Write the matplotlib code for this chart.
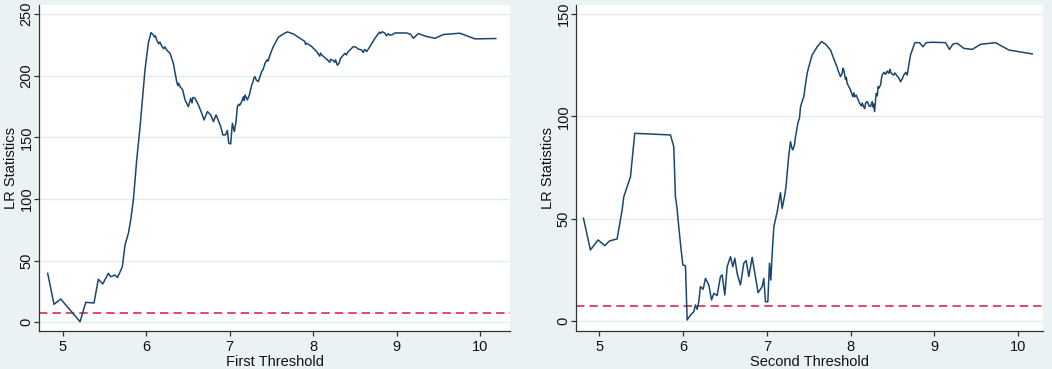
import matplotlib
matplotlib.use("Agg")
import matplotlib.pyplot as plt

plt.rcParams['font.family'] = ['Liberation Sans', 'DejaVu Sans']

# First threshold LR statistics (main read points)
x1 = [4.82, 4.896, 4.976, 5.208, 5.276, 5.375, 5.427, 5.48, 5.547, 5.575, 5.627, 5.655,
      5.68, 5.715, 5.747, 5.787, 5.815, 5.847, 5.887, 5.927, 5.986, 6.026, 6.058, 6.086,
      6.126, 6.186, 6.246, 6.286, 6.326, 6.366, 6.406, 6.438, 6.466, 6.506, 6.534, 6.586,
      6.626, 6.666, 6.694, 6.734, 6.774, 6.806, 6.838, 6.87, 6.894, 6.918, 6.95, 6.973,
      6.99, 7.013, 7.033, 7.057, 7.077, 7.093, 7.145, 7.185, 7.213, 7.237, 7.265, 7.304,
      7.344, 7.384, 7.424, 7.484, 7.524, 7.584, 7.644, 7.692, 7.764, 7.844, 7.923, 7.983,
      8.043, 8.103, 8.163, 8.243, 8.291, 8.331, 8.383, 8.483, 8.583, 8.642, 8.682, 8.742,
      8.794, 8.862, 8.922, 8.982, 9.121, 9.169, 9.201, 9.261, 9.361, 9.461, 9.561, 9.76,
      9.94, 10.19]
y1 = [39.8, 14.6, 18.9, 0.5, 16.2, 15.7, 34.9, 31.1, 39.8, 37.0, 38.4, 36.3,
      39.8, 45.2, 62.8, 72.2, 83.0, 99.3, 131.8, 158.8, 204.8, 226.5, 235.1, 233.2,
      229.2, 224.3, 221.0, 218.3, 210.2, 195.3, 191.3, 188.6, 180.5, 175.0, 181.8, 181.8,
      176.4, 169.6, 164.2, 171.0, 168.3, 162.9, 168.3, 162.9, 158.8, 152.1, 152.1, 155.6,
      145.3, 144.8, 161.5, 154.8, 162.9, 175.0, 179.1, 184.5, 180.5, 184.5, 192.6, 199.4,
      195.3, 203.5, 210.2, 217.0, 223.8, 231.3, 234.0, 235.7, 234.0, 230.5, 226.5, 223.8,
      219.7, 217.0, 213.5, 212.4, 208.6, 214.3, 218.3, 223.8, 221.0, 219.7, 223.8, 230.5,
      235.4, 234.6, 233.0, 234.8, 234.8, 233.8, 230.5, 234.3, 231.9, 230.5, 233.5, 234.6,
      230.0, 230.3]
# First threshold: small wiggles read in between
x1_detail = [6.10, 6.11, 6.15, 6.165, 6.21, 6.225, 6.38, 6.39, 6.55, 6.56, 7.11, 7.12,
             7.165, 7.175, 7.28, 7.29, 7.32, 7.40, 7.41, 7.45, 7.46, 7.90, 7.91, 8.08,
             8.09, 8.20, 8.21, 8.26, 8.27, 8.31, 8.40, 8.42, 8.45, 8.52, 8.54, 8.60,
             8.62, 8.81, 8.83, 8.88, 8.90, 8.95]
y1_detail = [231.5, 232.5, 226.0, 227.5, 222.0, 223.5, 192.0, 194.0, 178.0, 182.5, 177.0, 176.0,
             183.0, 180.0, 195.0, 198.0, 196.5, 205.0, 207.0, 213.0, 212.0, 228.0, 225.5, 216.0,
             218.5, 211.0, 213.5, 211.0, 213.0, 210.0, 217.0, 219.5, 221.5, 223.0, 221.8, 219.0,
             221.5, 234.5, 235.8, 232.5, 234.2, 233.5]

# Second threshold LR statistics (main read points)
x2 = [4.809, 4.892, 4.984, 5.064, 5.12, 5.211, 5.271, 5.291, 5.371, 5.422, 5.849, 5.888,
      5.908, 5.928, 5.94, 5.968, 5.996, 6.028, 6.048, 6.088, 6.128, 6.147, 6.167, 6.187,
      6.207, 6.239, 6.267, 6.307, 6.339, 6.367, 6.406, 6.446, 6.466, 6.498, 6.526, 6.566,
      6.594, 6.618, 6.645, 6.685, 6.725, 6.753, 6.785, 6.825, 6.857, 6.896, 6.944, 6.964,
      6.984, 7.012, 7.032, 7.048, 7.064, 7.084, 7.124, 7.163, 7.183, 7.215, 7.243, 7.283,
      7.311, 7.343, 7.375, 7.403, 7.442, 7.482, 7.542, 7.602, 7.653, 7.701, 7.761, 7.821,
      7.88, 7.92, 7.96, 8.0, 8.028, 8.068, 8.108, 8.16, 8.2, 8.239, 8.259, 8.287,
      8.307, 8.339, 8.379, 8.438, 8.478, 8.518, 8.558, 8.598, 8.637, 8.677, 8.717, 8.769,
      8.825, 8.865, 8.904, 8.976, 9.135, 9.183, 9.223, 9.275, 9.355, 9.454, 9.554, 9.733,
      9.892, 10.012, 10.171]
y2 = [50.2, 34.7, 39.6, 36.8, 39.1, 40.1, 54.2, 60.7, 70.5, 91.7, 90.9, 85.2,
      60.7, 55.0, 49.3, 37.9, 27.4, 27.0, 0.5, 2.9, 4.6, 7.8, 5.7, 9.4,
      16.8, 15.5, 20.8, 17.6, 10.3, 13.5, 12.4, 21.7, 22.5, 12.7, 26.5, 31.4,
      26.5, 30.6, 23.3, 17.6, 28.2, 29.5, 21.7, 31.1, 23.3, 13.8, 16.8, 20.8,
      9.4, 9.4, 28.2, 20.0, 33.0, 46.0, 53.4, 62.7, 55.0, 61.6, 72.1, 87.6,
      83.6, 90.1, 97.4, 104.7, 109.6, 121.0, 130.0, 134.0, 136.5, 135.3, 132.4, 125.9,
      119.4, 122.6, 116.1, 112.9, 109.6, 110.4, 106.4, 104.4, 107.2, 104.7, 107.2, 102.3,
      111.2, 113.7, 120.2, 122.1, 121.8, 120.2, 119.7, 116.9, 120.2, 120.2, 130.0, 136.0,
      136.0, 134.0, 136.0, 136.2, 136.0, 132.7, 135.3, 135.7, 133.2, 132.7, 135.2, 136.0,
      132.4, 131.6, 130.5]
# Second threshold: small wiggles read in between
x2_detail = [7.23, 7.26, 7.30, 7.33, 7.36, 7.39, 7.42, 7.46, 7.50, 7.84, 7.85, 7.90,
             7.91, 7.94, 7.95, 8.04, 8.05, 8.13, 8.14, 8.17, 8.18, 8.22, 8.27, 8.275,
             8.32, 8.33, 8.36, 8.37, 8.40, 8.42, 8.46, 8.47, 8.50, 8.53, 8.58, 8.62, 8.66]
y2_detail = [66.0, 80.0, 84.5, 86.0, 94.0, 99.0, 107.0, 115.0, 124.0, 124.0, 122.5, 121.0,
             123.5, 118.0, 119.0, 111.5, 109.5, 105.0, 106.5, 103.8, 106.5, 105.3, 104.5, 106.0,
             110.0, 114.5, 115.5, 118.5, 121.5, 120.5, 121.0, 123.0, 120.5, 121.2, 118.5, 118.5, 121.5]

crit_value = 7.35
xticks = [5, 6, 7, 8, 9, 10]
yticks1 = [0, 50, 100, 150, 200, 250]
yticks2 = [0, 50, 100, 150]
xlabels = ["First Threshold", "Second Threshold"]
ylabel = "LR Statistics"

BG = '#EAF2F3'
LINE = '#1A476F'
RED = '#D7193C'
GRID = '#E4EBED'


def merged(xa, ya, xb, yb):
    pts = sorted(zip(list(xa) + list(xb), list(ya) + list(yb)))
    return [p[0] for p in pts], [p[1] for p in pts]


fig = plt.figure(figsize=(10.52, 3.69), dpi=100, facecolor=BG)
ax1 = fig.add_axes([39/1052, 1-331/369, (510-39)/1052, (331-5)/369])
ax2 = fig.add_axes([576/1052, 1-331/369, (1043-576)/1052, (331-5)/369])

panels = [(ax1, merged(x1, y1, x1_detail, y1_detail), yticks1, (4.716, 10.36), (-7.06, 257.5), xlabels[0]),
          (ax2, merged(x2, y2, x2_detail, y2_detail), yticks2, (4.72, 10.30), (-4.9, 154.4), xlabels[1])]

for ax, (xs, ys), yt, xl, yl, xlab in panels:
    ax.set_facecolor('white')
    ax.set_xlim(*xl)
    ax.set_ylim(*yl)
    ax.set_yticks(yt)
    ax.set_xticks(xticks)
    for v in yt:
        ax.axhline(v, color=GRID, lw=1.0, zorder=0)
    ax.plot(xs, ys, color=LINE, lw=1.1, zorder=3)
    ax.axhline(crit_value, color=RED, lw=1.1, dashes=(5.5, 3.3), zorder=2)
    for s in ['top', 'right']:
        ax.spines[s].set_visible(False)
    for s in ['left', 'bottom']:
        ax.spines[s].set_color('#333333')
        ax.spines[s].set_linewidth(0.9)
    ax.tick_params(axis='both', length=3.5, width=0.9, color='#333333',
                   labelsize=10.5, labelcolor='#111111')
    ax.tick_params(axis='y', pad=0.3, labelrotation=90)
    ax.tick_params(axis='x', pad=3)
    for lab in ax.get_yticklabels():
        lab.set_va('center')
    ax.set_xlabel(xlab, fontsize=10.5, labelpad=0.5, color='#111111')
    ax.set_ylabel(ylabel, fontsize=10.5, labelpad=1, color='#111111')

fig.savefig('out.png', dpi=100, facecolor=BG)
